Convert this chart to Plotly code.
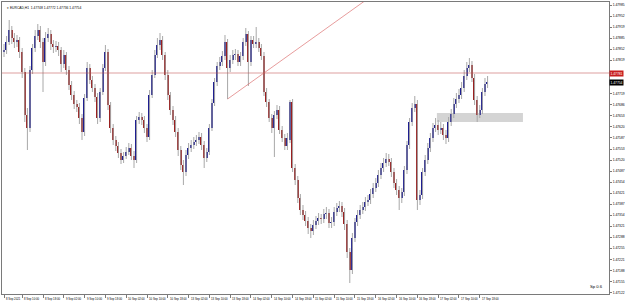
import plotly.graph_objects as go
import pandas as pd

# ---------------- data (H1 candles) ----------------
opens = [1.47844,1.47850,1.47874,1.47910,1.47886,1.47874,1.47880,1.47844,1.47784,1.47655,
 1.47616,1.47790,1.47856,1.47892,1.47910,1.47874,1.47814,1.47886,1.47898,1.47868,
 1.47859,1.47862,1.47850,1.47808,1.47835,1.47790,1.47745,1.47715,1.47688,1.47679,
 1.47646,1.47604,1.47706,1.47796,1.47760,1.47736,1.47709,1.47646,1.47724,1.47796,
 1.47844,1.47685,1.47616,1.47580,1.47562,1.47541,1.47520,1.47532,1.47544,1.47556,
 1.47532,1.47520,1.47640,1.47649,1.47640,1.47616,1.47589,1.47715,1.47775,1.47835,
 1.47865,1.47880,1.47835,1.47775,1.47715,1.47670,1.47640,1.47604,1.47550,1.47505,
 1.47484,1.47535,1.47556,1.47565,1.47574,1.47580,1.47589,1.47565,1.47526,1.47544,
 1.47616,1.47691,1.47754,1.47802,1.47814,1.47832,1.47874,1.47796,1.47820,1.47835,
 1.47838,1.47814,1.47832,1.47874,1.47898,1.47814,1.47880,1.47868,1.47874,1.47856,
 1.47832,1.47724,1.47694,1.47646,1.47616,1.47655,1.47670,1.47610,1.47586,1.47562,
 1.47580,1.47694,1.47496,1.47460,1.47406,1.47370,1.47355,1.47337,1.47316,1.47307,
 1.47325,1.47337,1.47346,1.47343,1.47358,1.47361,1.47331,1.47334,1.47364,1.47376,
 1.47382,1.47364,1.47328,1.47244,1.47190,1.47286,1.47334,1.47355,1.47370,1.47379,
 1.47394,1.47400,1.47418,1.47436,1.47451,1.47475,1.47496,1.47511,1.47523,1.47514,
 1.47484,1.47451,1.47430,1.47406,1.47424,1.47490,1.47565,1.47634,1.47676,1.47688,
 1.47400,1.47415,1.47484,1.47520,1.47556,1.47586,1.47616,1.47625,1.47610,1.47616,
 1.47595,1.47586,1.47634,1.47658,1.47688,1.47703,1.47715,1.47736,1.47772,1.47796,
 1.47805,1.47766,1.47700,1.47655,1.47670,1.47724,1.47748]

highs = [1.47868,1.47892,1.47940,1.47922,1.47901,1.47895,1.47889,1.47856,1.47796,1.47676,
 1.47802,1.47868,1.47910,1.47928,1.47922,1.47886,1.47904,1.47916,1.47910,1.47880,
 1.47877,1.47874,1.47859,1.47850,1.47844,1.47802,1.47757,1.47727,1.47700,1.47691,
 1.47658,1.47718,1.47814,1.47808,1.47772,1.47748,1.47721,1.47736,1.47808,1.47865,
 1.47853,1.47694,1.47628,1.47592,1.47574,1.47553,1.47544,1.47559,1.47571,1.47568,
 1.47547,1.47652,1.47664,1.47661,1.47652,1.47628,1.47730,1.47790,1.47850,1.47886,
 1.47901,1.47892,1.47844,1.47790,1.47724,1.47682,1.47652,1.47616,1.47562,1.47520,
 1.47550,1.47571,1.47580,1.47589,1.47595,1.47604,1.47601,1.47577,1.47556,1.47628,
 1.47703,1.47766,1.47814,1.47829,1.47847,1.47895,1.47883,1.47835,1.47850,1.47853,
 1.47850,1.47844,1.47886,1.47916,1.47907,1.47892,1.47892,1.47919,1.47886,1.47868,
 1.47844,1.47736,1.47703,1.47658,1.47667,1.47685,1.47682,1.47622,1.47598,1.47601,
 1.47700,1.47703,1.47508,1.47472,1.47418,1.47385,1.47367,1.47349,1.47328,1.47340,
 1.47352,1.47361,1.47358,1.47373,1.47379,1.47373,1.47349,1.47379,1.47391,1.47397,
 1.47394,1.47376,1.47340,1.47256,1.47301,1.47346,1.47370,1.47385,1.47394,1.47409,
 1.47415,1.47433,1.47451,1.47466,1.47490,1.47511,1.47526,1.47541,1.47538,1.47526,
 1.47496,1.47463,1.47442,1.47436,1.47502,1.47577,1.47646,1.47691,1.47712,1.47700,
 1.47430,1.47496,1.47535,1.47571,1.47601,1.47631,1.47646,1.47640,1.47634,1.47628,
 1.47610,1.47649,1.47673,1.47706,1.47721,1.47733,1.47754,1.47790,1.47814,1.47826,
 1.47817,1.47778,1.47712,1.47685,1.47736,1.47766,1.47772]

lows = [1.47829,1.47838,1.47865,1.47868,1.47856,1.47859,1.47826,1.47766,1.47634,1.47550,
 1.47604,1.47778,1.47844,1.47880,1.47856,1.47724,1.47802,1.47874,1.47850,1.47841,
 1.47844,1.47832,1.47784,1.47796,1.47775,1.47730,1.47700,1.47673,1.47664,1.47628,
 1.47580,1.47592,1.47697,1.47748,1.47724,1.47694,1.47628,1.47634,1.47715,1.47787,
 1.47670,1.47601,1.47565,1.47547,1.47526,1.47508,1.47511,1.47523,1.47535,1.47520,
 1.47496,1.47511,1.47628,1.47625,1.47601,1.47574,1.47580,1.47706,1.47766,1.47826,
 1.47850,1.47820,1.47760,1.47700,1.47655,1.47625,1.47589,1.47532,1.47490,1.47445,
 1.47472,1.47523,1.47544,1.47553,1.47562,1.47568,1.47550,1.47496,1.47514,1.47535,
 1.47607,1.47682,1.47742,1.47790,1.47802,1.47820,1.47703,1.47784,1.47808,1.47820,
 1.47802,1.47802,1.47820,1.47862,1.47742,1.47802,1.47856,1.47856,1.47844,1.47820,
 1.47712,1.47679,1.47634,1.47601,1.47529,1.47643,1.47598,1.47574,1.47550,1.47550,
 1.47571,1.47484,1.47445,1.47391,1.47355,1.47340,1.47322,1.47298,1.47286,1.47295,
 1.47313,1.47325,1.47328,1.47331,1.47343,1.47316,1.47316,1.47322,1.47352,1.47364,
 1.47349,1.47310,1.47226,1.47151,1.47178,1.47274,1.47322,1.47343,1.47358,1.47367,
 1.47382,1.47388,1.47406,1.47424,1.47439,1.47463,1.47484,1.47499,1.47502,1.47469,
 1.47436,1.47415,1.47370,1.47391,1.47412,1.47478,1.47553,1.47622,1.47664,1.47370,
 1.47385,1.47403,1.47472,1.47508,1.47544,1.47574,1.47604,1.47595,1.47598,1.47580,
 1.47568,1.47574,1.47622,1.47646,1.47676,1.47691,1.47703,1.47724,1.47760,1.47784,
 1.47754,1.47685,1.47634,1.47646,1.47658,1.47712,1.47736]

closes = [1.47850,1.47874,1.47910,1.47886,1.47874,1.47880,1.47844,1.47784,1.47655,1.47616,
 1.47790,1.47856,1.47892,1.47910,1.47874,1.47814,1.47886,1.47898,1.47868,1.47859,
 1.47862,1.47850,1.47808,1.47835,1.47790,1.47745,1.47715,1.47688,1.47679,1.47646,
 1.47604,1.47706,1.47796,1.47760,1.47736,1.47709,1.47646,1.47724,1.47796,1.47844,
 1.47685,1.47616,1.47580,1.47562,1.47541,1.47520,1.47532,1.47544,1.47556,1.47532,
 1.47520,1.47640,1.47649,1.47640,1.47616,1.47589,1.47715,1.47775,1.47835,1.47865,
 1.47880,1.47835,1.47775,1.47715,1.47670,1.47640,1.47604,1.47550,1.47505,1.47484,
 1.47535,1.47556,1.47565,1.47574,1.47580,1.47589,1.47565,1.47526,1.47544,1.47616,
 1.47691,1.47754,1.47802,1.47814,1.47832,1.47874,1.47796,1.47820,1.47835,1.47838,
 1.47814,1.47832,1.47874,1.47898,1.47814,1.47880,1.47868,1.47874,1.47856,1.47832,
 1.47724,1.47694,1.47646,1.47616,1.47655,1.47670,1.47610,1.47586,1.47562,1.47586,
 1.47694,1.47496,1.47460,1.47406,1.47370,1.47355,1.47337,1.47316,1.47307,1.47325,
 1.47337,1.47346,1.47343,1.47358,1.47361,1.47331,1.47334,1.47364,1.47376,1.47382,
 1.47364,1.47328,1.47244,1.47190,1.47286,1.47334,1.47355,1.47370,1.47379,1.47394,
 1.47400,1.47418,1.47436,1.47451,1.47475,1.47496,1.47511,1.47523,1.47514,1.47484,
 1.47451,1.47430,1.47406,1.47424,1.47490,1.47565,1.47634,1.47676,1.47688,1.47400,
 1.47415,1.47484,1.47520,1.47556,1.47586,1.47616,1.47625,1.47610,1.47616,1.47595,
 1.47586,1.47634,1.47658,1.47688,1.47703,1.47715,1.47736,1.47772,1.47796,1.47805,
 1.47766,1.47700,1.47655,1.47670,1.47724,1.47748,1.47754]

n = len(closes)
assert len(opens) == n and len(highs) == n and len(lows) == n

# bar times: H1 from 8 Sep 2021 03:00, weekend skipped
hours = pd.date_range("2021-09-08 03:00", "2021-09-20 00:00", freq="h")
bar_times = [t for t in hours if t.weekday() < 5][:n]

time_labels = ["8 Sep 2021", "8 Sep 10:00", "8 Sep 18:00", "9 Sep 02:00", "9 Sep 10:00",
               "9 Sep 18:00", "10 Sep 02:00", "10 Sep 10:00", "10 Sep 18:00", "13 Sep 02:00",
               "13 Sep 10:00", "13 Sep 18:00", "14 Sep 02:00", "14 Sep 10:00", "14 Sep 18:00",
               "15 Sep 02:00", "15 Sep 10:00", "15 Sep 18:00", "16 Sep 02:00", "16 Sep 10:00",
               "16 Sep 18:00", "17 Sep 02:00", "17 Sep 10:00", "17 Sep 18:00"]

price_labels = ["1.47985", "1.47952", "1.47919", "1.47885", "1.47852", "1.47819",
                "1.47719", "1.47686", "1.47653", "1.47620", "1.47587", "1.47553",
                "1.47520", "1.47487", "1.47454", "1.47421", "1.47387", "1.47354", "1.47321",
                "1.47288", "1.47255", "1.47221", "1.47188", "1.47155", "1.47122"]

hline_price = 1.47781
bid_price = closes[-1]
trend_p1 = (86, 1.47703)       # (bar, price)
trend_p2 = (121.5, 1.47901)
zone_bars = (166.5, 199.6)
zone_prices = (1.47634, 1.47661)
title_text = "\u25be EURCAD,H1  1.47748 1.47772 1.47736 1.47754"
spread_text = "Sp 0.6"

# ---------------- figure ----------------
label_fmt = lambda t: f"{t.day} Sep {t:%H:%M}"
tick_idx = [0] + [next(i for i, t in enumerate(bar_times) if label_fmt(t) == lab) for lab in time_labels[1:]]

x = list(range(n))
wx, wy = [], []
for i in x:
    wx += [i, i, None]
    wy += [lows[i], highs[i], None]

body_base = [min(o, c) for o, c in zip(opens, closes)]
body_h = [max(abs(c - o), 0.000012) for o, c in zip(opens, closes)]
body_col = ["#1e1e90" if c >= o else "#9a2020" for o, c in zip(opens, closes)]

fig = go.Figure()
fig.add_trace(go.Scatter(x=wx, y=wy, mode="lines", line=dict(color="#a8a8a8", width=1),
                         hoverinfo="skip", showlegend=False))
fig.add_trace(go.Bar(x=x, y=body_h, base=body_base, width=0.58,
                     marker=dict(color=body_col, line=dict(width=0)), showlegend=False))

# support zone rectangle
fig.add_shape(type="rect", x0=zone_bars[0], x1=zone_bars[1], y0=zone_prices[0], y1=zone_prices[1],
              fillcolor="#d4d4d4", line=dict(width=0), layer="below")
# horizontal line
fig.add_shape(type="line", xref="paper", x0=0, x1=1, y0=hline_price, y1=hline_price,
              line=dict(color="rgba(195,80,80,0.55)", width=1))
# trend ray
slope = (trend_p2[1] - trend_p1[1]) / (trend_p2[0] - trend_p1[0])
x_end = 240
fig.add_shape(type="line", x0=trend_p1[0], y0=trend_p1[1], x1=x_end,
              y1=trend_p1[1] + slope * (x_end - trend_p1[0]),
              line=dict(color="rgba(215,90,90,0.6)", width=1))

ann = []
for idx, lab in zip(tick_idx, time_labels):
    ann.append(dict(x=idx, y=0, xref="x", yref="paper", text=lab, showarrow=False,
                    xanchor="left", yanchor="top", xshift=0, yshift=-1,
                    font=dict(size=2.8, color="#000000", family="Liberation Sans")))
ann.append(dict(x=1, y=hline_price, xref="paper", yref="y", text=f"{hline_price:.5f}",
                showarrow=False, xanchor="left", yanchor="middle", xshift=0,
                bgcolor="#c81e1e", borderpad=0.5,
                font=dict(size=3.3, color="#ffffff", family="Liberation Sans")))
ann.append(dict(x=1, y=bid_price, xref="paper", yref="y", text=f"{bid_price:.5f}",
                showarrow=False, xanchor="left", yanchor="middle", xshift=0,
                bgcolor="#000000", borderpad=0.5,
                font=dict(size=3.3, color="#ffffff", family="Liberation Sans")))
ann.append(dict(x=0, y=1, xref="paper", yref="paper", text=title_text, showarrow=False,
                xanchor="left", yanchor="top", xshift=3, yshift=-1.5,
                font=dict(size=3.3, color="#000000", family="Liberation Sans")))
ann.append(dict(x=1, y=0, xref="paper", yref="paper", text=spread_text, showarrow=False,
                xanchor="right", yanchor="bottom", xshift=-4, yshift=3,
                font=dict(size=4.2, color="#000000", family="Liberation Sans")))

price_vals = [float(p) for p in price_labels]

fig.update_layout(
    width=625, height=302,
    margin=dict(l=2, r=16, t=2, b=8, autoexpand=False),
    paper_bgcolor="#ffffff", plot_bgcolor="#ffffff",
    showlegend=False, bargap=0,
    annotations=ann,
    xaxis=dict(range=[-0.77, 232.7], showgrid=False, zeroline=False,
               showline=True, mirror=True, linecolor="#7a7a7a", linewidth=1,
               tickmode="array", tickvals=tick_idx, ticktext=[""] * len(tick_idx),
               ticks="outside", ticklen=3, tickcolor="#7a7a7a", tickwidth=1,
               showticklabels=False, fixedrange=True),
    yaxis=dict(range=[1.47118, 1.47994], side="right", showgrid=False, zeroline=False,
               showline=True, mirror=True, linecolor="#7a7a7a", linewidth=1,
               tickmode="array", tickvals=price_vals, ticktext=price_labels,
               ticks="outside", ticklen=2, tickcolor="#7a7a7a", tickwidth=1,
               tickfont=dict(size=3.3, color="#000000", family="Liberation Sans"),
               automargin=False, fixedrange=True),
)

fig.write_html("out.html")
